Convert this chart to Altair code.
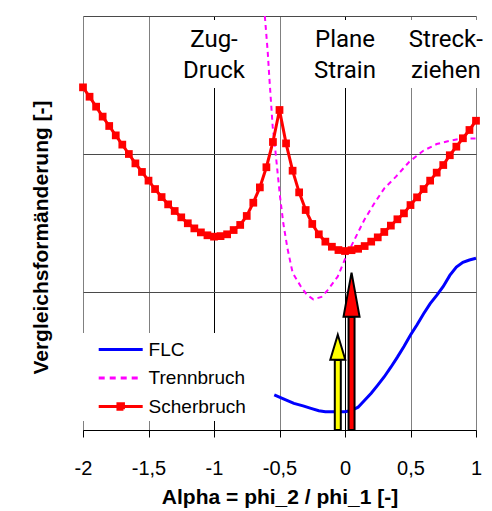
import altair as alt
import pandas as pd

# ---------------- data ----------------
scher_alpha = [-2.0, -1.95, -1.9, -1.85, -1.8, -1.75, -1.7, -1.65, -1.6, -1.55,
               -1.5, -1.45, -1.4, -1.35, -1.3, -1.25, -1.2, -1.15, -1.1, -1.05,
               -1.0, -0.95, -0.9, -0.85, -0.8, -0.75, -0.7, -0.65, -0.6, -0.55,
               -0.5, -0.45, -0.4, -0.35, -0.3, -0.25, -0.2, -0.15, -0.1, -0.05,
               0.0, 0.05, 0.1, 0.15, 0.2, 0.25, 0.3, 0.35, 0.4, 0.45,
               0.5, 0.55, 0.6, 0.65, 0.7, 0.75, 0.8, 0.85, 0.9, 0.95, 1.0]
scher_value = [2.483, 2.415, 2.343, 2.271, 2.203, 2.135, 2.068, 2.000, 1.932, 1.870,
               1.807, 1.746, 1.688, 1.635, 1.587, 1.541, 1.498, 1.461, 1.432, 1.411,
               1.401, 1.405, 1.418, 1.449, 1.486, 1.551, 1.647, 1.758, 1.904, 2.087,
               2.319, 2.077, 1.879, 1.722, 1.594, 1.493, 1.418, 1.365, 1.328, 1.304,
               1.297, 1.303, 1.313, 1.333, 1.365, 1.396, 1.435, 1.481, 1.527, 1.570,
               1.630, 1.686, 1.746, 1.807, 1.865, 1.920, 1.991, 2.053, 2.114, 2.174, 2.241]

trenn_alpha = [-0.612, -0.59, -0.578, -0.565, -0.552, -0.532, -0.514, -0.496, -0.471,
               -0.44, -0.40, -0.336, -0.29, -0.242, -0.18, -0.132, -0.056, 0.008,
               0.071, 0.147, 0.224, 0.30, 0.389, 0.491, 0.60, 0.70, 0.80, 0.90, 1.0]
trenn_value = [3.0, 2.741, 2.56, 2.379, 2.198, 2.029, 1.86, 1.691, 1.498,
               1.32, 1.14, 1.038, 0.978, 0.947, 0.964, 1.014, 1.111, 1.256,
               1.377, 1.522, 1.643, 1.751, 1.836, 1.944, 2.025, 2.072, 2.096, 2.113, 2.113]

flc_alpha = [-0.54, -0.47, -0.39, -0.32, -0.26, -0.20, -0.15, -0.10, -0.05, 0.0,
             0.04, 0.07, 0.10, 0.15, 0.20, 0.25, 0.30, 0.35, 0.40, 0.45, 0.50,
             0.55, 0.60, 0.65, 0.70, 0.75, 0.80, 0.85, 0.90, 0.95, 1.0]
flc_value = [0.254, 0.225, 0.193, 0.175, 0.157, 0.140, 0.133, 0.132, 0.132, 0.133,
             0.140, 0.152, 0.165, 0.215, 0.266, 0.325, 0.386, 0.455, 0.528, 0.605, 0.688,
             0.763, 0.842, 0.916, 0.975, 1.04, 1.12, 1.18, 1.215, 1.232, 1.244]

series_names = ["FLC", "Trennbruch", "Scherbruch"]
series_colors = ["#0000ff", "#ff00ff", "#ff0000"]

# arrows (position, base of head, tip)
arrow_alpha = [-0.055, 0.05]
arrow_base = [0.507, 0.819]
arrow_tip = [0.69, 1.14]
arrow_colors = ["#ffff00", "#ff0000"]

# region labels
region_labels = ["Zug-\nDruck", "Plane\nStrain", "Streck-\nziehen"]
region_alpha = [-1.0, 0.0, 0.77]
region_y = [2.778, 2.778, 2.778]
box_x1 = [-1.27, -0.27, 0.47]
box_x2 = [-0.73, 0.27, 1.05]
box_y1 = [2.478, 2.478, 2.478]
box_y2 = [2.971, 2.971, 2.971]

x_ticks = [-2, -1.5, -1, -0.5, 0, 0.5, 1]
y_grid = [0, 1, 2, 3]

# ---------------- frames ----------------
df_scher = pd.DataFrame({"alpha": scher_alpha, "value": scher_value})
df_trenn = pd.DataFrame({"alpha": trenn_alpha, "value": trenn_value})
df_flc = pd.DataFrame({"alpha": flc_alpha, "value": flc_value})
df_lab = pd.DataFrame({"alpha": region_alpha, "value": region_y, "label": region_labels,
                       "x1": box_x1, "x2": box_x2, "y1": box_y1, "y2": box_y2})
df_leg = pd.DataFrame({"alpha": [0, 0, 0], "value": [0, 0, 0], "series": series_names})

FONT = "Liberation Sans"
xscale = alt.Scale(domain=[-2, 1], nice=False, zero=False, padding=0)
yscale = alt.Scale(domain=[0, 3], nice=False, zero=False, padding=0)

xaxis = alt.Axis(
    values=x_ticks,
    labelExpr="replace(toString(datum.value), '.', ',')",
    grid=True,
    gridColor={"condition": {"test": "datum.value === -1 || datum.value === 0", "value": "#000000"},
               "value": "#808080"},
    gridWidth=1,
    domainColor="#000000", domainWidth=1,
    tickColor="#000000", tickSize=7, tickWidth=1,
    labelFont=FONT, labelFontSize=20, labelColor="#000000", labelPadding=21,
    labelFlush=False, labelOverlap=False,
    title="Alpha = phi_2 / phi_1 [-]",
    titleFont=FONT, titleFontSize=21, titleFontWeight="bold", titleColor="#000000",
    titlePadding=8,
)
yaxis = alt.Axis(
    values=y_grid, labels=False, ticks=False, domain=False,
    grid=True, gridColor="#4a4a4a", gridWidth=1,
    title="Vergleichsformänderung [-]",
    titleFont=FONT, titleFontSize=21, titleFontWeight="bold", titleColor="#000000",
    titlePadding=32, titleY=221,
)


def X(f="alpha"):
    return alt.X(f, type="quantitative", scale=xscale, axis=xaxis)


def Y(f="value"):
    return alt.Y(f, type="quantitative", scale=yscale, axis=yaxis)


boxes = alt.Chart(df_lab).mark_rect(fill="white", stroke=None).encode(
    x=X("x1"), x2="x2", y=Y("y1"), y2="y2")
texts = alt.Chart(df_lab).mark_text(
    font="Roboto", fontSize=24, lineBreak="\n", lineHeight=31,
    align="center", baseline="alphabetic", color="#000000"
).encode(x=X(), y=Y(), text="label:N")

trenn = alt.Chart(df_trenn).mark_line(
    color="#ff00ff", strokeWidth=2, strokeDash=[5, 4], clip=True
).encode(x=X(), y=Y())
flc = alt.Chart(df_flc).mark_line(color="#0000ff", strokeWidth=3).encode(x=X(), y=Y())
scher_line = alt.Chart(df_scher).mark_line(color="#ff0000", strokeWidth=3).encode(x=X(), y=Y())
scher_pts = alt.Chart(df_scher).mark_square(
    color="#ff0000", size=60, opacity=1).encode(x=X(), y=Y())

arrow_layers = []
head_paths = ["M0,0L0.6,2L-0.6,2Z", "M0,0L0.364,2L-0.364,2Z"]
head_sizes = [625, 1936]
for i in range(len(arrow_alpha)):
    d = pd.DataFrame({"alpha": [arrow_alpha[i]], "value": [arrow_tip[i]],
                      "y0": [0.0], "base": [arrow_base[i]]})
    shaft = alt.Chart(d).mark_bar(
        width=6, fill=arrow_colors[i], stroke="#000000", strokeWidth=2
    ).encode(x=X(), y=Y("y0"), y2="base")
    head = alt.Chart(d).mark_point(
        shape=head_paths[i], size=head_sizes[i], filled=True,
        fill=arrow_colors[i], stroke="#000000", strokeWidth=2, opacity=1
    ).encode(x=X(), y=Y())
    arrow_layers += [shaft, head]

line_path = "M-1,0L3,0"
sq_path = "M-1,0L3,0M0.75,-0.25L1.25,-0.25L1.25,0.25L0.75,0.25ZM0.75,0L1.25,0"
legend_layer = alt.Chart(df_leg).transform_filter("false").mark_point(
    filled=False, strokeWidth=3, opacity=1
).encode(
    x=X(), y=Y(),
    color=alt.Color("series:N", scale=alt.Scale(domain=series_names, range=series_colors),
                    legend=alt.Legend(title=None)),
    strokeDash=alt.StrokeDash("series:N",
                              scale=alt.Scale(domain=series_names, range=[[1, 0], [6, 5], [1, 0]]),
                              legend=alt.Legend(title=None)),
    shape=alt.Shape("series:N",
                    scale=alt.Scale(domain=series_names, range=[line_path, line_path, sq_path]),
                    legend=alt.Legend(title=None)),
)

chart = alt.layer(
    boxes, texts, trenn, flc, scher_line, scher_pts, *arrow_layers, legend_layer
).properties(
    width=393, height=414,
    padding={"left": 75, "top": 8, "right": 8, "bottom": 81},
    autosize=alt.AutoSizeParams(type="none"),
    background="white",
).configure_view(stroke=None).configure_legend(
    orient="none", legendX=-1, legendY=317, fillColor="white", padding=4,
    symbolSize=484, symbolStrokeWidth=3, symbolOffset=11.2, labelOffset=26.4,
    symbolOpacity=1,
    labelFont=FONT, labelFontSize=19, labelColor="#000000", labelLimit=300,
    rowPadding=5.5,
)

chart.save("out.html", embed_options={"renderer": "svg", "actions": False})
